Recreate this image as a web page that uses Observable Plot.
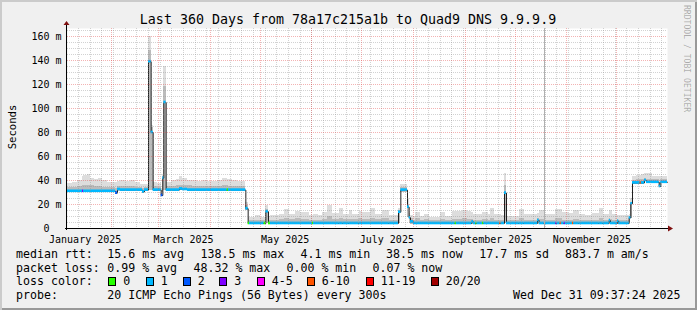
<!DOCTYPE html>
<html><head><meta charset="utf-8">
<script src="https://cdn.jsdelivr.net/npm/d3@7"></script>
<script src="https://cdn.jsdelivr.net/npm/@observablehq/plot@0.6"></script>
<style>
body{margin:0;background:#f0f0f0}
#chart{position:relative;width:697px;height:310px;background:#f0f0f0;box-shadow:inset 2px 2px 0 #cbcbcb, inset -2px -2px 0 #999999;overflow:hidden}
#chart svg{position:absolute;left:0;top:0}
</style></head><body><div id="chart"></div>
<script>
// ---- time frame: last 360 days ending Wed Dec 31 09:37:24 2025 ----
const startUTC = Date.UTC(2025, 0, 5, 9, 37, 24);
const spanDays = 360;

// ---- data: step samples (days after start) ----
const sampleDay = [0,3,6,9,9.6,12,13.8,16.2,18.6,21,24,27,28.8,30,31.8,34.8,37.8,40.8,43.8,45,46.2,
  48.6,50.2,51.4,54,56.2,57.2,57.8,59.2,62.4,65.4,67.2,69,72,75,78,81,84,87,90,93,95.8,96.6,99,102,105,
  107,108.4,109.2,112.8,115.8,118,119,120.6,121.8,124.2,127.2,130.2,133.2,136.8,139.8,142.8,145.2,147,147.6,
  150.6,153,156,159,163,165.4,169,171,175,177,181.8,184.8,189,193,198.6,200,202.2,204,205,205.8,207.6,208.8,
  211.8,214.2,217.2,220.8,223.8,226.8,231,232.6,233.4,237,240,242.6,243.6,245,245.7,249,249.8,252.6,253.8,
  256.2,259.4,260.1,262.2,263.4,267,271,274,277.8,282,283,286,289.2,293,293.7,295.6,296.3,297,298,298.7,
  300.6,303,303.7,307,310.8,315,319,321.4,325,325.8,327,330,330.8,333.6,337,338,339,341.4,343.6,344.3,
  346.2,347.4,351,355,356];
const medianMs = [31,31,31,31,31,31,31,31,31,31,31,31,29.5,32.5,32,32,32,32,32,30.5,32,
  139,80,32,32,27.5,42,105,32,32,32,33,32.5,32,32,32,32,32,32,32,32,32,32,32,32,32,
  16.5,4.2,4.2,4.2,4.2,4.2,14,4.2,4.2,4.2,4.2,4.2,4.2,4.2,4.2,4.2,4.2,4.2,4.2,
  4.2,4.2,4.2,4.2,4.2,4.2,4.2,4.2,4.2,4.2,4.2,4.2,4.2,4.2,13.6,32,32,17.8,9,5.5,4.2,4.2,
  4.2,4.2,4.2,4.2,4.2,4.2,4.2,4.2,4.2,4.2,4.2,5.5,4.2,4.2,4.2,4.2,4.2,4.2,4.2,
  4.2,4.2,4.2,29.5,4.2,4.2,4.2,4.2,4.2,6.7,4.2,4.2,4.2,4.2,4.2,4.2,4.2,4.2,4.2,4.2,
  4.2,4.2,4.2,4.2,4.2,4.2,4.2,4.2,6.5,4.2,4.2,6,4.2,4.2,8.9,20.6,38,38,38,38,
  40,38.5,38.5,35,38.5];
const smokeLoMs = [30,30,30,30,30,30,30,30,30,30,30,30,28.5,31,31,31,31,31,31,29.5,31,
  32,32,31,31,27,30,32,31,31,31,32,31.5,31,31,31,31,31,31,31,31,31,31,31,31,31,
  15,3.5,3.5,3.5,3.5,3.5,4,3.5,3.5,3.5,3.5,3.5,3.5,3.5,3.5,3.5,3.5,3.5,3.5,
  3.5,3.5,3.5,3.5,3.5,3.5,3.5,3.5,3.5,3.5,3.5,3.5,3.5,3.5,4,30,30,9,4,3.5,3.5,3.5,
  3.5,3.5,3.5,3.5,3.5,3.5,3.5,3.5,3.5,3.5,3.5,3.5,3.5,3.5,3.5,3.5,3.5,3.5,3.5,
  3.5,3.5,3.5,4,3.5,3.5,3.5,3.5,3.5,4,3.5,3.5,3.5,3.5,3.5,3.5,3.5,3.5,3.5,3.5,
  3.5,3.5,3.5,3.5,3.5,3.5,3.5,3.5,4,3.5,3.5,4,3.5,3.5,4,8,37,37,37,37,
  39,37.5,37.5,34,37.5];
const smokeMidMs = [34,34,35,35.5,36,36,35.5,35,35,34.5,34,34,33,35,35,35,35,34.5,34,33,34,
  148,84,35,34.5,30,43,118,35,35,35.5,36,36,35.5,35,35,35,35,35,35,35.5,35.5,35,35,35,35,
  19,6,6.5,7,6.5,6.5,16,6.5,7,7,7.5,8,7.5,8,7.5,7.5,7,7,7,
  7,7.5,10,7.5,8,7.5,7.5,7.5,8,7.5,8,7.5,8,7,15,34,34.5,20,10.5,8,7,8,
  7,7.5,6.5,6.5,7.5,6.5,7.5,7.5,7.5,8,7.5,7.5,7,7,7,7.5,7.5,7,8,
  7,7,7,36,6.5,6.5,8,7,7,8,7.5,7,7,8,8,8,8,7,7,7,
  7,7,7.5,7,6.5,7,8,7,8,7.5,7,7.5,6.5,6.5,10,22,40,40.5,40.5,41,
  42,41,40.5,38,40.5];
const smokeMaxMs = [37.5,38,40,43,44,45,42,41,41.5,40,38.5,38.5,38,39,40,39.5,40,38,37,36.5,37,
  160,86,38,37.5,33,45,135,38.5,40,41,43.5,42,40,40,39.5,40,39,39.5,40,41.5,41,41,40,39.5,39,
  22,9,9.5,10.5,9.5,9.5,19.5,10,10.5,11,12,15.5,12,14,13,13.5,11,11,11.5,
  10.5,13.5,19.5,12.5,16.5,12,15,12,14,13.5,16.5,12,15,11,17,36.5,37,25,12.5,11,10,13.5,
  10,12,9.5,9,13.5,10,14,14.5,14.5,15,14,13,12,12,11.5,13,13,12,16.5,
  12,11.5,11,45.5,10,10,15.8,12,11.5,12.5,15,12,11.5,15.8,15.8,15.5,15.5,13,13,13,
  12.5,12.5,15,12,11,12.5,17,12,15,15,11.5,11,10.5,11,12,25,43,44,44,45,
  46,46,43,43,43.5];
const lostPings = [1,1,1,3,1,1,1,1,1,1,1,1,2,1,1,1,1,1,1,1,1,
  1,1,1,1,2,1,1,1,1,1,1,1,1,1,1,1,1,1,1,1,0,1,1,1,1,
  1,0,1,1,1,0,1,0,1,1,1,1,1,1,1,1,1,0,1,
  1,1,1,1,1,1,1,1,1,1,1,1,1,1,1,1,1,1,1,1,1,1,
  1,1,1,1,1,1,1,0,1,1,1,1,1,0,1,0,1,1,1,
  1,8,1,1,1,1,1,1,1,1,1,1,1,3,1,8,1,1,3,1,
  1,8,1,1,1,1,1,1,1,1,1,1,1,1,1,1,1,1,8,1,
  1,1,1,1,1];

// loss colour classes
const lossLabels = ["0","1","2","3","4-5","6-10","11-19","20/20"];
const lossUpper  = [0,1,2,3,5,10,19,20];
const lossColors = ["#26ff00","#00b8ff","#0059ff","#7e00ff","#ff00ff","#ff5500","#ff0000","#a10000"];

// axis
const yTicks = [0,20,40,60,80,100,120,140,160];
const monthLabels = ["January 2025","March 2025","May 2025","July 2025","September 2025","November 2025"];
const labelMonthStarts = ["2025-01-01","2025-03-01","2025-05-01","2025-07-01","2025-09-01","2025-11-01"];

// legend texts
const titleText = "Last 360 Days from 78a17c215a1b to Quad9 DNS 9.9.9.9";
const rttStats = ["15.6 ms avg","138.5 ms max","4.1 ms min","38.5 ms now","17.7 ms sd","883.7 m am/s"];
const lossStats = ["0.99 % avg","48.32 % max","0.00 % min","0.07 % now"];
const probeText = "20 ICMP Echo Pings (56 Bytes) every 300s";
const stampText = "Wed Dec 31 09:37:24 2025";

// ---- build ----
const dayOf = t => (t - startUTC) / 864e5;
const n = sampleDay.length;
const rows = sampleDay.map((d, i) => ({
  x1: d, x2: i + 1 < n ? sampleDay[i + 1] : spanDays,
  med: medianMs[i], lo: smokeLoMs[i], mid: smokeMidMs[i], hi: smokeMaxMs[i], loss: lostPings[i]
}));
const linePts = rows.concat([{x1: spanDays, med: medianMs[n - 1]}]);
const lossColor = l => lossColors[lossUpper.findIndex(u => l <= u)];

const endDate = new Date(startUTC + spanDays * 864e5);
const monthDays = d3.utcMonth.range(new Date(startUTC), endDate).map(dayOf);
const weekDays = d3.utcSunday.range(new Date(startUTC), endDate).map(dayOf);
const labelDays = labelMonthStarts.map(s => dayOf(Date.parse(s + "T00:00:00Z")) + 15);
const labelOf = new Map(labelDays.map((d, i) => [d, monthLabels[i]]));
const yMinor = d3.range(5, 166, 5).filter(v => v % 20 !== 0);
const yMajor = yTicks.filter(v => v > 0);
const markerDay = 285.9;

const FONT = "DejaVu Sans Mono";
const plot = Plot.plot({
  width: 697, height: 310,
  marginLeft: 67, marginRight: 30, marginTop: 28, marginBottom: 82,
  style: {background: "transparent", fontFamily: FONT, color: "black", overflow: "visible"},
  x: {type: "linear", domain: [0, spanDays]},
  y: {domain: [0, 500 / 3]},
  color: {type: "identity"},
  marks: [
    Plot.frame({fill: "white", stroke: "none"}),
    Plot.rect(rows, {x1: "x1", x2: "x2", y1: "lo", y2: "hi", fill: "#dddddd", shapeRendering: "crispEdges"}),
    Plot.rect(rows, {x1: "x1", x2: "x2", y1: "lo", y2: "mid", fill: "#bbbbbb", shapeRendering: "crispEdges"}),
    Plot.line(linePts, {x: "x1", y: "med", curve: "step-after", stroke: "#202020", strokeWidth: 1}),
    Plot.rect(rows, {x1: "x1", x2: "x2", y1: d => d.med - 1.1, y2: d => d.med + 1.1, fill: d => lossColor(d.loss)}),
    // grid on top (rrdtool style)
    Plot.ruleY(yMinor, {stroke: "#8f8f8f", strokeOpacity: 0.4, strokeDasharray: "1,1", shapeRendering: "crispEdges"}),
    Plot.ruleX(weekDays, {stroke: "#8f8f8f", strokeOpacity: 0.4, strokeDasharray: "1,1", shapeRendering: "crispEdges"}),
    Plot.ruleY(yMajor, {stroke: "#e04040", strokeOpacity: 0.4, strokeDasharray: "1,1", shapeRendering: "crispEdges"}),
    Plot.ruleX(monthDays, {stroke: "#e04040", strokeOpacity: 0.4, strokeDasharray: "1,1", shapeRendering: "crispEdges"}),
    Plot.ruleX([markerDay], {stroke: "#b0b0b0", shapeRendering: "crispEdges"}),
    Plot.axisY({ticks: yTicks, tickSize: 0, tickPadding: 6, fontSize: 10,
      tickFormat: d => d === 0 ? "0\u00a0\u00a0" : d + " m"}),
    Plot.axisX({ticks: labelDays, tickSize: 0, tickPadding: 7, fontSize: 10,
      tickFormat: d => labelOf.get(d)})
  ]
});
document.getElementById("chart").appendChild(plot);

// ---- axes lines, arrows, texts ----
const svg = d3.select(plot);
const xs = plot.scale("x"), ys = plot.scale("y");
const X0 = Math.round(xs.apply(0)), X1 = Math.round(xs.apply(spanDays));
const Y0 = Math.round(ys.apply(0)), YT = Math.round(ys.apply(500 / 3));
const g = svg.append("g").attr("text-anchor", "start");
g.append("line").attr("x1", X0 - 2).attr("x2", X1 + 2).attr("y1", Y0 + 0.5).attr("y2", Y0 + 0.5)
  .attr("stroke", "#000").attr("shape-rendering", "crispEdges");
g.append("line").attr("x1", X0 - 0.5).attr("x2", X0 - 0.5).attr("y1", Y0 + 2).attr("y2", YT - 3)
  .attr("stroke", "#000").attr("shape-rendering", "crispEdges");
g.append("path").attr("d", `M${X1 + 1},${Y0 - 2.5}L${X1 + 6},${Y0 + 0.5}L${X1 + 1},${Y0 + 3.5}Z`).attr("fill", "#7f1010");
g.append("path").attr("d", `M${X0 - 3.5},${YT - 3}L${X0 - 0.5},${YT - 7}L${X0 + 2.5},${YT - 3}Z`).attr("fill", "#7f1010");

function txt(s, x, y, size, opts = {}) {
  const t = g.append("text").attr("x", x).attr("y", y).attr("font-family", FONT)
    .attr("font-size", size).attr("fill", opts.fill || "#000").attr("xml:space", "preserve")
    .attr("text-anchor", opts.anchor || "start").text(s);
  if (opts.transform) t.attr("transform", opts.transform);
  if (opts.opacity) t.attr("fill-opacity", opts.opacity);
  return t;
}
txt(titleText, 348, 24, 13.3, {anchor: "middle"});
txt("Seconds", 0, 0, 10.6, {anchor: "middle", transform: "translate(16,127) rotate(-90)"});
txt("RRDTOOL / TOBI OETIKER", 0, 0, 8.1, {transform: "translate(684,5) rotate(90)", fill: "#000", opacity: 0.3});

const LF = 11.6;
txt("median rtt:", 16, 258, LF);
[107.3, 200.5, 300.5, 386, 479.3, 565].forEach((x, i) => txt(rttStats[i], x, 258, LF));
txt("packet loss:", 16, 271.5, LF);
[107.3, 193.5, 286.5, 372.5].forEach((x, i) => txt(lossStats[i], x, 271.5, LF));
txt("loss color:", 16, 285, LF);
[108.3, 145.7, 182.7, 219.3, 256.7, 306.7, 365.7, 430.7].forEach((x, i) => {
  g.append("rect").attr("x", Math.round(x) + 0.5).attr("y", 277.5).attr("width", 7).attr("height", 8)
    .attr("fill", lossColors[i]).attr("stroke", "#000");
  txt(lossLabels[i], x + 15, 285, LF);
});
txt("probe:", 16, 298.5, LF);
txt(probeText, 107.3, 298.5, LF);
txt(stampText, 513, 298.5, LF);
</script></body></html>
